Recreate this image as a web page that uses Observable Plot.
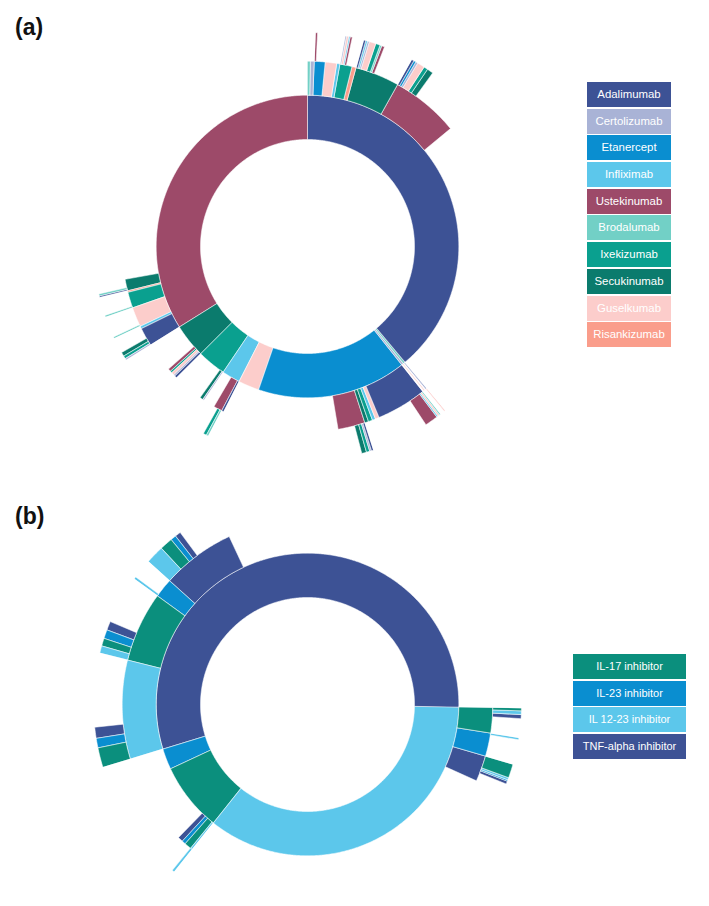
<!DOCTYPE html>
<html><head><meta charset="utf-8">
<script src="https://cdn.jsdelivr.net/npm/d3@7"></script>
<script src="https://cdn.jsdelivr.net/npm/@observablehq/plot@0.6"></script>
<style>
body{margin:0;background:#fff;font-family:"Liberation Sans",Arial,sans-serif;}
#page{position:relative;width:709px;height:906px;overflow:hidden;}
.panel{position:absolute;left:0;}
.tag{position:absolute;left:15px;font-weight:bold;font-size:23px;line-height:23px;color:#111;}
.legend{position:absolute;}
.legend div{height:25px;margin-bottom:1.7px;color:#fff;text-align:center;line-height:25px;}
</style></head>
<body><div id="page"></div>
<script>
// ---------- Panel (a): individual biologics (values = share of circle, degrees) ----------
const drugNames  = ["Adalimumab","Certolizumab","Etanercept","Infliximab","Ustekinumab","Brodalumab","Ixekizumab","Secukinumab","Guselkumab","Risankizumab"];
const drugColors = ["#3d5295","#a9b3d6","#0a8ed0","#5cc7eb","#9d4a69","#72d0c6","#0aa08f","#0b7b6d","#fccdcb","#fa9d8b"];

const ringA1 = [
  ["Adalimumab",140],["Brodalumab",0.8],["Certolizumab",0.8],["Etanercept",57.4],
  ["Guselkumab",8],["Infliximab",7],["Ixekizumab",11],["Secukinumab",13],["Ustekinumab",122]
];
const ringA2 = [
  ["Adalimumab","Brodalumab",1.0],["Adalimumab","Certolizumab",1.2],["Adalimumab","Etanercept",3.4],
  ["Adalimumab","Guselkumab",3.6],["Adalimumab","Infliximab",1.0],["Adalimumab","Ixekizumab",3.8],
  ["Adalimumab","Risankizumab",1.3],["Adalimumab","Secukinumab",13.9],["Adalimumab","Ustekinumab",21.3],
  ["Brodalumab","Certolizumab",0.4],
  ["Certolizumab","Guselkumab",0.3],
  ["Etanercept","Adalimumab",15.8],["Etanercept","Guselkumab",1.2],["Etanercept","Infliximab",1.0],
  ["Etanercept","Ixekizumab",1.3],["Etanercept","Secukinumab",1.2],["Etanercept","Ustekinumab",8.4],
  ["Infliximab","Adalimumab",0.7],["Infliximab","Ustekinumab",2.6],
  ["Ixekizumab","Certolizumab",0.5],["Ixekizumab","Secukinumab",0.9],
  ["Secukinumab","Adalimumab",0.8],["Secukinumab","Certolizumab",0.5],["Secukinumab","Guselkumab",0.9],
  ["Secukinumab","Ixekizumab",0.6],["Secukinumab","Ustekinumab",0.8],
  ["Ustekinumab","Adalimumab",5.8],["Ustekinumab","Infliximab",0.8],["Ustekinumab","Guselkumab",6.2],
  ["Ustekinumab","Ixekizumab",5.0],["Ustekinumab","Risankizumab",0.5],["Ustekinumab","Secukinumab",3.5]
];
const ringA3 = [
  ["Adalimumab>Etanercept","Ustekinumab",0.5],
  ["Adalimumab>Ixekizumab","Certolizumab",0.4],["Adalimumab>Ixekizumab","Guselkumab",0.6],
  ["Adalimumab>Ixekizumab","Infliximab",0.4],["Adalimumab>Ixekizumab","Ustekinumab",0.5],
  ["Adalimumab>Secukinumab","Adalimumab",0.6],["Adalimumab>Secukinumab","Infliximab",0.5],
  ["Adalimumab>Secukinumab","Certolizumab",0.5],["Adalimumab>Secukinumab","Guselkumab",1.8],
  ["Adalimumab>Secukinumab","Ixekizumab",1.2],["Adalimumab>Secukinumab","Brodalumab",0.5],
  ["Adalimumab>Secukinumab","Ustekinumab",0.7],
  ["Adalimumab>Ustekinumab","Adalimumab",0.7],["Adalimumab>Ustekinumab","Etanercept",0.6],
  ["Adalimumab>Ustekinumab","Certolizumab",0.6],["Adalimumab>Ustekinumab","Guselkumab",2.0],
  ["Adalimumab>Ustekinumab","Ixekizumab",1.1],["Adalimumab>Ustekinumab","Secukinumab",1.6],
  ["Brodalumab>Certolizumab","Guselkumab",0.3],
  ["Etanercept>Adalimumab","Brodalumab",0.4],["Etanercept>Adalimumab","Guselkumab",0.5],
  ["Etanercept>Adalimumab","Infliximab",0.4],["Etanercept>Adalimumab","Ustekinumab",3.5],
  ["Etanercept>Ustekinumab","Adalimumab",0.6],["Etanercept>Ustekinumab","Certolizumab",0.5],
  ["Etanercept>Ustekinumab","Ixekizumab",0.9],["Etanercept>Ustekinumab","Secukinumab",1.2],
  ["Infliximab>Ustekinumab","Brodalumab",0.6],["Infliximab>Ustekinumab","Ixekizumab",0.8],
  ["Ustekinumab>Adalimumab","Certolizumab",0.5],["Ustekinumab>Adalimumab","Ixekizumab",0.8],
  ["Ustekinumab>Adalimumab","Secukinumab",1.0],
  ["Ustekinumab>Guselkumab","Brodalumab",0.4],
  ["Ustekinumab>Ixekizumab","Brodalumab",0.4],
  ["Ustekinumab>Secukinumab","Adalimumab",0.4],["Ustekinumab>Secukinumab","Brodalumab",0.5]
];
const startA = 0;

// ---------- Panel (b): drug classes ----------
const classNames  = ["IL-17 inhibitor","IL-23 inhibitor","IL 12-23 inhibitor","TNF-alpha inhibitor"];
const classColors = ["#0b8f7d","#0a8ed0","#5cc7eb","#3d5295"];

const ringB1 = [
  ["IL 12-23 inhibitor",127.6],["IL-17 inhibitor",26.4],["IL-23 inhibitor",8],["TNF-alpha inhibitor",198]
];
const ringB2 = [
  ["IL 12-23 inhibitor","IL-17 inhibitor",8],["IL 12-23 inhibitor","IL-23 inhibitor",7.3],["IL 12-23 inhibitor","TNF-alpha inhibitor",8],
  ["IL-17 inhibitor","IL 12-23 inhibitor",0.6],["IL-17 inhibitor","IL-17 inhibitor",2.2],
  ["IL-17 inhibitor","IL-23 inhibitor",1.2],["IL-17 inhibitor","TNF-alpha inhibitor",1.5],
  ["TNF-alpha inhibitor","IL 12-23 inhibitor",31],["TNF-alpha inhibitor","IL-17 inhibitor",22],
  ["TNF-alpha inhibitor","IL-23 inhibitor",6],["TNF-alpha inhibitor","TNF-alpha inhibitor",23]
];
const ringB3 = [
  ["IL 12-23 inhibitor>IL-17 inhibitor","IL-17 inhibitor",0.8],["IL 12-23 inhibitor>IL-17 inhibitor","IL 12-23 inhibitor",1.0],
  ["IL 12-23 inhibitor>IL-17 inhibitor","TNF-alpha inhibitor",1.0],
  ["IL 12-23 inhibitor>IL-23 inhibitor","IL 12-23 inhibitor",0.5],
  ["IL 12-23 inhibitor>TNF-alpha inhibitor","IL-17 inhibitor",3.8],["IL 12-23 inhibitor>TNF-alpha inhibitor","IL 12-23 inhibitor",0.6],
  ["IL 12-23 inhibitor>TNF-alpha inhibitor","IL-23 inhibitor",0.4],["IL 12-23 inhibitor>TNF-alpha inhibitor","TNF-alpha inhibitor",0.7],
  ["IL-17 inhibitor>IL 12-23 inhibitor","IL 12-23 inhibitor",0.6],
  ["TNF-alpha inhibitor>IL 12-23 inhibitor","IL-17 inhibitor",5.4],["TNF-alpha inhibitor>IL 12-23 inhibitor","IL-23 inhibitor",2.6],
  ["TNF-alpha inhibitor>IL 12-23 inhibitor","TNF-alpha inhibitor",2.9],
  ["TNF-alpha inhibitor>IL-17 inhibitor","IL 12-23 inhibitor",2.0],["TNF-alpha inhibitor>IL-17 inhibitor","IL-17 inhibitor",2.1],
  ["TNF-alpha inhibitor>IL-17 inhibitor","IL-23 inhibitor",2.4],["TNF-alpha inhibitor>IL-17 inhibitor","TNF-alpha inhibitor",2.3],
  ["TNF-alpha inhibitor>IL-23 inhibitor","IL 12-23 inhibitor",0.6],
  ["TNF-alpha inhibitor>TNF-alpha inhibitor","IL 12-23 inhibitor",5],["TNF-alpha inhibitor>TNF-alpha inhibitor","IL-17 inhibitor",3.5],
  ["TNF-alpha inhibitor>TNF-alpha inhibitor","IL-23 inhibitor",1.5],["TNF-alpha inhibitor>TNF-alpha inhibitor","TNF-alpha inhibitor",1.5]
];
const startB = 91;

// ---------- layout helpers ----------
const R = 214;                         // outer radius (equal-area rings)
const ringR = k => R * Math.sqrt(k / 4);

function layoutNodes(r1, r2, r3, start) {
  const total = d3.sum(r1, d => d[1]);
  const k = 360 / total;
  const nodes = [];
  const cursor = new Map();
  let a = start;
  for (const [name, v] of r1) {
    const a0 = a, a1 = a + v * k;
    nodes.push({depth: 1, name, a0, a1});
    cursor.set(name, a0); a = a1;
  }
  for (const [lvl, rows] of [[2, r2], [3, r3]]) {
    for (const [parent, name, v] of rows) {
      const a0 = cursor.get(parent), a1 = a0 + v * k;
      cursor.set(parent, a1);
      nodes.push({depth: lvl, name, a0, a1});
      cursor.set(parent + ">" + name, a0);
    }
  }
  return nodes;
}

function toFeature(n, cx, cy) {
  const r0 = ringR(n.depth), r1 = ringR(n.depth + 1);
  const steps = Math.max(2, Math.ceil((n.a1 - n.a0) / 0.5) + 1);
  const pts = [];
  for (let i = 0; i < steps; i++) {
    const a = (n.a0 + (n.a1 - n.a0) * i / (steps - 1)) * Math.PI / 180;
    pts.push([cx + r1 * Math.sin(a), cy - r1 * Math.cos(a)]);
  }
  for (let i = steps - 1; i >= 0; i--) {
    const a = (n.a0 + (n.a1 - n.a0) * i / (steps - 1)) * Math.PI / 180;
    pts.push([cx + r0 * Math.sin(a), cy - r0 * Math.cos(a)]);
  }
  pts.push(pts[0]);
  return {type: "Feature", properties: {name: n.name, depth: n.depth}, geometry: {type: "Polygon", coordinates: [pts]}};
}

function sunburst(r1, r2, r3, start, names, colors, w, h, cx, cy) {
  const feats = layoutNodes(r1, r2, r3, start).map(n => toFeature(n, cx, cy));
  return Plot.plot({
    width: w, height: h, margin: 0,
    style: {background: "transparent"},
    projection: d3.geoIdentity(),
    color: {domain: names, range: colors},
    marks: [
      Plot.geo(feats, {fill: d => d.properties.name, stroke: "#ffffff", strokeWidth: 0.6, strokeOpacity: 0.9})
    ]
  });
}

function legend(names, colors, left, top, width, fontSize) {
  const el = document.createElement("div");
  el.className = "legend";
  el.style.left = left + "px"; el.style.top = top + "px"; el.style.width = width + "px";
  names.forEach((n, i) => {
    const b = document.createElement("div");
    b.textContent = n; b.style.background = colors[i]; b.style.fontSize = fontSize + "px";
    el.appendChild(b);
  });
  return el;
}

const page = document.getElementById("page");

const pa = document.createElement("div"); pa.className = "panel"; pa.style.top = "0px";
pa.appendChild(sunburst(ringA1, ringA2, ringA3, startA, drugNames, drugColors, 709, 478, 307, 246));
page.appendChild(pa);

const pb = document.createElement("div"); pb.className = "panel"; pb.style.top = "478px";
pb.appendChild(sunburst(ringB1, ringB2, ringB3, startB, classNames, classColors, 709, 428, 307, 226));
page.appendChild(pb);

const ta = document.createElement("div"); ta.className = "tag"; ta.style.top = "16px"; ta.textContent = "(a)"; page.appendChild(ta);
const tb = document.createElement("div"); tb.className = "tag"; tb.style.top = "505px"; tb.textContent = "(b)"; page.appendChild(tb);

page.appendChild(legend(drugNames, drugColors, 587, 82, 84, 11.4));
page.appendChild(legend(classNames, classColors, 573, 654, 113, 11));
</script>
</body></html>
